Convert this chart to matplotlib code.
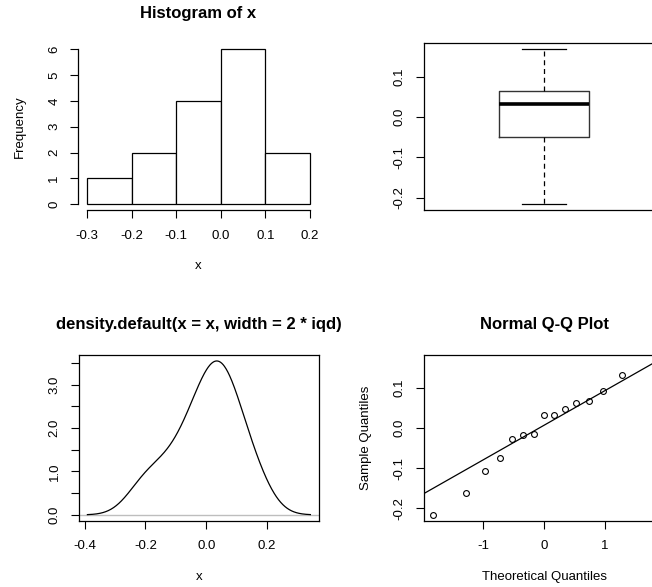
import numpy as np
import matplotlib.pyplot as plt
from statistics import NormalDist

plt.rcParams['font.family'] = ['Liberation Sans', 'DejaVu Sans']
plt.rcParams['axes.unicode_minus'] = False

x = np.array([-0.216, -0.162, -0.106, -0.074, -0.027, -0.018, -0.015,
              0.033, 0.033, 0.048, 0.064, 0.068, 0.094, 0.133, 0.168])
breaks = [-0.3, -0.2, -0.1, 0.0, 0.1, 0.2]
hist_yticks = [0, 1, 2, 3, 4, 5, 6]
box_yticks = [-0.2, -0.1, 0.0, 0.1]
dens_xticks = [-0.4, -0.2, 0.0, 0.2]
dens_yticks = [0.0, 0.5, 1.0, 1.5, 2.0, 2.5, 3.0, 3.5]
qq_xticks = [-1, 0, 1]

W, H = 652, 587
fig = plt.figure(figsize=(W / 100, H / 100), dpi=100)


def make_axes(left, top, right, bottom):
    return fig.add_axes([left / W, 1 - bottom / H, (right - left) / W, (bottom - top) / H])


def r_style(ax):
    ax.tick_params(direction='out', length=5.8, width=0.8, labelsize=9.5,
                   colors='black')
    ax.tick_params(axis='x', pad=8)
    ax.tick_params(axis='y', labelrotation=90, pad=7)
    for lab in ax.get_yticklabels():
        lab.set_va('center')
    for s in ax.spines.values():
        s.set_linewidth(0.9)


def place_labels(ax, title=None, xlabel=None, ylabel=None):
    h = ax.get_position().height * H
    w = ax.get_position().width * W
    if title:
        ax.set_title(title, fontsize=12, fontweight='bold', y=1 + 30 / h, va='center', pad=0)
    if xlabel:
        ax.set_xlabel(xlabel, fontsize=9.5)
        ax.xaxis.label.set_va('center')
        ax.xaxis.set_label_coords(0.5, -56 / h)
    if ylabel:
        ax.set_ylabel(ylabel, fontsize=9.5)
        ax.yaxis.label.set_va('center')
        ax.yaxis.set_label_coords(-58 / w, 0.5)


# histogram
ax1 = make_axes(78, 43.2, 319, 210.4)
ax1.hist(x, bins=breaks, facecolor='white', edgecolor='black', linewidth=0.9)
ax1.margins(x=0.04, y=0.04)
ax1.set_ylim(-0.24, 6.24)
ax1.set_xticks(breaks)
ax1.set_xticklabels([f'{b:.1f}' for b in breaks])
ax1.set_yticks(hist_yticks)
ax1.spines['top'].set_visible(False)
ax1.spines['right'].set_visible(False)
ax1.spines['bottom'].set_bounds(breaks[0], breaks[-1])
ax1.spines['left'].set_bounds(0, 6)
r_style(ax1)
place_labels(ax1, 'Histogram of x', 'x', 'Frequency')

# boxplot
ax2 = make_axes(423.5, 43.2, 664.5, 210.4)
ax2.boxplot(x, positions=[1], widths=0.4, capwidths=0.2,
            boxprops=dict(color='#333333', linewidth=1.0),
            medianprops=dict(color='black', linewidth=2.6),
            whiskerprops=dict(color='black', linewidth=0.9, linestyle=(0, (4, 3))),
            capprops=dict(color='black', linewidth=0.9),
            showfliers=False)
ax2.set_xlim(0.46, 1.54)
ax2.margins(y=0.04)
ax2.set_xticks([])
ax2.set_yticks(box_yticks)
ax2.set_yticklabels([f'{t:.1f}' for t in box_yticks])
r_style(ax2)

# density with bw = width / 4, width = 2 * IQR
q25, q75 = np.percentile(x, [25, 75])
bw = 2 * (q75 - q25) / 4
grid = np.linspace(x.min() - 3 * bw, x.max() + 3 * bw, 512)
dens = np.exp(-0.5 * ((grid[:, None] - x[None, :]) / bw) ** 2).sum(axis=1)
dens /= len(x) * bw * np.sqrt(2 * np.pi)

ax3 = make_axes(78.5, 354.8, 319.3, 521)
ax3.axhline(0, color='#bebebe', linewidth=1.0)
ax3.plot(grid, dens, color='black', linewidth=0.9)
ax3.margins(x=0.04, y=0.04)
ax3.set_xticks(dens_xticks)
ax3.set_xticklabels([f'{t:.1f}' for t in dens_xticks])
ax3.set_yticks(dens_yticks)
ax3.set_yticklabels([f'{t:.1f}' if t % 1 == 0 else '' for t in dens_yticks])
r_style(ax3)
place_labels(ax3, 'density.default(x = x, width = 2 * iqd)', 'x')

# normal Q-Q
n = len(x)
theo = np.array([NormalDist().inv_cdf((i + 0.5) / n) for i in range(n)])
sample = np.sort(x)
slope = (q75 - q25) / (NormalDist().inv_cdf(0.75) - NormalDist().inv_cdf(0.25))
intercept = q25 - slope * NormalDist().inv_cdf(0.25)

ax4 = make_axes(423.6, 354.8, 664.8, 521)
ax4.plot(theo, sample, linestyle='none', marker='o', markersize=4.2,
         markerfacecolor='none', markeredgecolor='black', markeredgewidth=0.8)
ax4.margins(x=0.04, y=0.04)
ax4.axline((0, intercept), slope=slope, color='black', linewidth=0.9)
ax4.set_xticks(qq_xticks)
ax4.set_yticks(box_yticks)
ax4.set_yticklabels([f'{t:.1f}' for t in box_yticks])
r_style(ax4)
place_labels(ax4, 'Normal Q-Q Plot', 'Theoretical Quantiles', 'Sample Quantiles')

fig.savefig('out.png', dpi=100)
